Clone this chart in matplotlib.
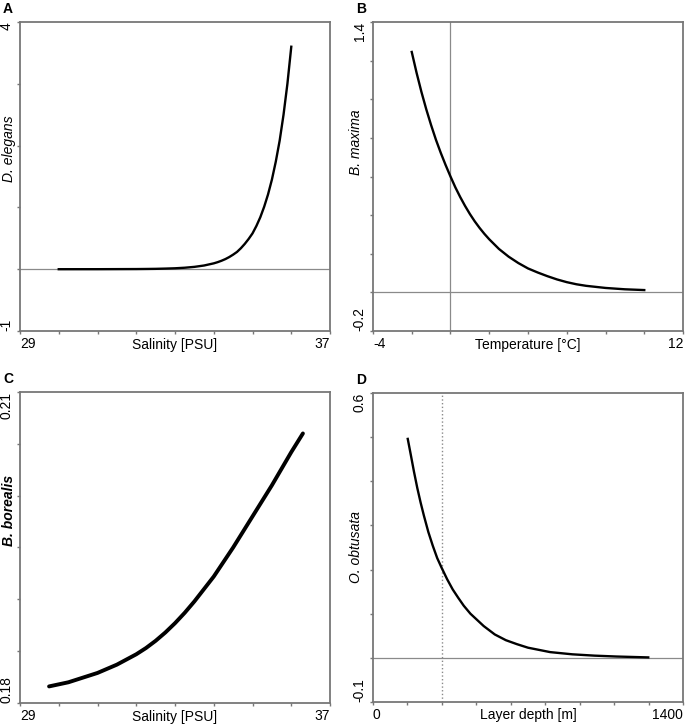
import matplotlib.pyplot as plt
import numpy as np

plt.rcParams['font.family'] = ['Liberation Sans', 'DejaVu Sans']
plt.rcParams['lines.solid_joinstyle'] = 'round'

# Panel A: D. elegans vs salinity
a_salinity = [30.0, 31.0, 32.0, 32.25, 32.5, 32.75, 33.0, 33.25, 33.5, 33.75, 34.0, 34.1, 34.2, 34.3,
              34.4, 34.5, 34.6, 34.7, 34.8, 34.9, 35.0, 35.1, 35.2, 35.3, 35.4, 35.5, 35.6, 35.7,
              35.8, 35.9, 36.0]
a_elegans = [0.0001, 0.0004, 0.0025, 0.004, 0.006, 0.010, 0.015, 0.024, 0.038, 0.060, 0.095, 0.114,
             0.137, 0.164, 0.197, 0.236, 0.28, 0.34, 0.41, 0.49, 0.58, 0.70, 0.84, 1.01, 1.21, 1.45,
             1.74, 2.08, 2.50, 3.00, 3.60]

# Panel B: B. maxima vs temperature
b_temp = [-2.0, -1.75, -1.5, -1.25, -1.0, -0.75, -0.5, -0.25, 0.0, 0.25, 0.5, 0.75, 1.0, 1.25, 1.5,
          1.75, 2.0, 2.5, 3.0, 3.5, 4.0, 4.5, 5.0, 5.5, 6.0, 6.5, 7.0, 8.0, 9.0, 10.0]
b_maxima = [1.245, 1.137, 1.038, 0.948, 0.866, 0.790, 0.722, 0.659, 0.600, 0.544, 0.494, 0.448,
            0.406, 0.368, 0.334, 0.303, 0.275, 0.225, 0.185, 0.152, 0.124, 0.103, 0.084, 0.067,
            0.053, 0.042, 0.034, 0.023, 0.016, 0.012]

# Panel C: B. borealis vs salinity
c_salinity = [29.75, 30.0, 30.25, 30.5, 30.75, 31.0, 31.25, 31.5, 31.75, 32.0, 32.25, 32.5, 32.75,
              33.0, 33.25, 33.5, 33.75, 34.0, 34.25, 34.5, 34.75, 35.0, 35.25, 35.5, 35.75, 36.0, 36.3]
c_borealis = [0.1816, 0.1818, 0.1820, 0.1823, 0.1826, 0.1829, 0.1833, 0.1837, 0.1842, 0.1847,
              0.1853, 0.1860, 0.1868, 0.1877, 0.1887, 0.1898, 0.1910, 0.1922, 0.1936, 0.1950,
              0.1965, 0.1980, 0.1995, 0.2010, 0.2026, 0.2042, 0.2060]

# Panel D: O. obtusata vs layer depth
d_depth = [157, 170, 185, 200, 215, 230, 250, 270, 290, 310, 335, 360, 385, 410, 440, 470, 500, 550,
           600, 650, 700, 750, 800, 900, 1000, 1100, 1243]
d_obtusata = [0.496, 0.462, 0.422, 0.385, 0.352, 0.322, 0.285, 0.254, 0.226, 0.204, 0.178, 0.155,
              0.136, 0.118, 0.100, 0.086, 0.072, 0.053, 0.040, 0.031, 0.023, 0.018, 0.013, 0.008,
              0.005, 0.003, 0.001]
d_marker_depth = 311

AX_COLOR = '#777777'
REF_COLOR = '#8a8a8a'


def style_panel(ax, xlim, ylim, nx, ny, xlabel, ylabel, letter, ylab_x, ylab_y, ylab_weight='normal'):
    ax.set_xlim(*xlim)
    ax.set_ylim(*ylim)
    ax.set_xticks(np.linspace(xlim[0], xlim[1], nx + 1))
    ax.set_yticks(np.linspace(ylim[0], ylim[1], ny + 1))
    xl = [''] * (nx + 1)
    yl = [''] * (ny + 1)
    xl[0], xl[-1] = f'{xlim[0]:g}', f'{xlim[1]:g}'
    yl[0], yl[-1] = f'{ylim[0]:g}', f'{ylim[1]:g}'
    ax.set_xticklabels(xl)
    ax.set_yticklabels(yl)
    ax.tick_params(direction='out', length=2.5, width=1, color=AX_COLOR, labelsize=10, pad=2)
    labs = ax.get_xticklabels()
    labs[0].set_ha('left')
    labs[-1].set_ha('right')
    ylabs = ax.get_yticklabels()
    for lab in ylabs:
        lab.set_rotation(90)
    ylabs[0].set_va('bottom')
    ylabs[-1].set_va('top')
    for s in ax.spines.values():
        s.set_color(AX_COLOR)
        s.set_linewidth(1.3)
    ax.set_xlabel(xlabel, fontsize=10)
    ax.xaxis.set_label_coords(0.5, -0.021)
    ax.xaxis.label.set_va('top')
    # species name as rotated text next to the axis
    ax.text(ylab_x, ylab_y, ylabel, transform=ax.transAxes, rotation=90, fontsize=10,
            style='italic', weight=ylab_weight, ha='center', va='center')
    ax.text(-0.055, 1.02, letter, transform=ax.transAxes, fontsize=10, weight='bold',
            ha='left', va='bottom')


fig = plt.figure(figsize=(6.85, 7.24), dpi=100)
axA = fig.add_axes([0.0292, 0.5428, 0.4526, 0.4268])
axB = fig.add_axes([0.5445, 0.5428, 0.4526, 0.4268])
axC = fig.add_axes([0.0292, 0.0290, 0.4526, 0.4296])
axD = fig.add_axes([0.5445, 0.0304, 0.4526, 0.4268])

# A
axA.axhline(0, color=REF_COLOR, lw=0.9, zorder=1)
axA.plot(a_salinity, a_elegans, color='black', lw=1.7)
style_panel(axA, (29, 37), (-1, 4), 8, 5, 'Salinity [PSU]', 'D. elegans', 'A', -0.036, 0.59)

# B
axB.axhline(0, color=REF_COLOR, lw=0.9, zorder=1)
axB.axvline(0, color=REF_COLOR, lw=0.9, zorder=1)
axB.plot(b_temp, b_maxima, color='black', lw=1.7)
style_panel(axB, (-4, 12), (-0.2, 1.4), 8, 8, 'Temperature [°C]', 'B. maxima', 'B', -0.056, 0.61)

# C
axC.plot(c_salinity, c_borealis, color='black', lw=2.8, solid_capstyle='round')
style_panel(axC, (29, 37), (0.18, 0.21), 8, 6, 'Salinity [PSU]', 'B. borealis', 'C', -0.036, 0.62,
            ylab_weight='bold')

# D
axD.axhline(0, color=REF_COLOR, lw=0.9, zorder=1)
axD.axvline(d_marker_depth, color=REF_COLOR, lw=1.0, ls=':', zorder=1)
axD.plot(d_depth, d_obtusata, color='black', lw=1.7)
style_panel(axD, (0, 1400), (-0.1, 0.6), 9, 7, 'Layer depth [m]', 'O. obtusata', 'D', -0.056, 0.5)

fig.savefig('out.png', dpi=100)
